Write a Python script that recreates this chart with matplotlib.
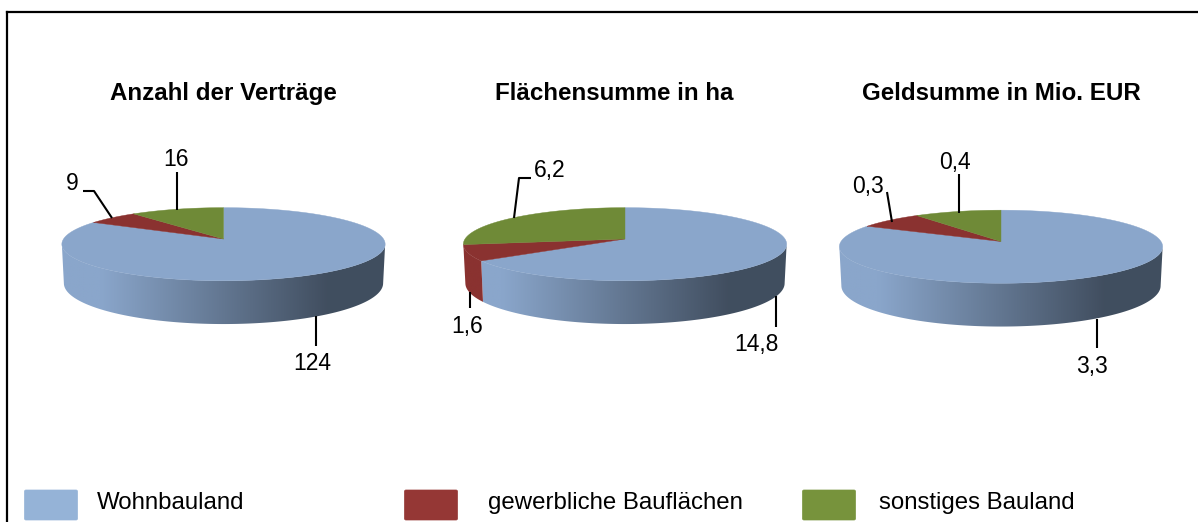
import numpy as np
import matplotlib
matplotlib.use("Agg")
import matplotlib.pyplot as plt
from matplotlib.patches import Polygon, FancyBboxPatch

plt.rcParams['font.family'] = ['Liberation Sans', 'DejaVu Sans']

# Data
titles = ["Anzahl der Verträge", "Flächensumme in ha", "Geldsumme in Mio. EUR"]
categories = ["Wohnbauland", "gewerbliche Bauflächen", "sonstiges Bauland"]
wohnbauland = [124, 14.8, 3.3]
gewerblich = [9, 1.6, 0.3]
sonstiges = [16, 6.2, 0.4]

top_colors = ["#8AA6CB", "#8A3230", "#6F8A37"]
legend_colors = ["#95B3D7", "#953735", "#77933C"]

# Perspective of the pie discs
K = 0.1425
LABEL_SIZE = 16.5


def disc_point(theta, cx, cy, a, b):
    # theta runs clockwise from 12 o'clock, the far edge is drawn smaller
    u, v = np.sin(theta), np.cos(theta)
    w = 1 + K * v
    return cx + a * u / w, cy - b * v / w


def shade(x, left, right):
    # Side of the disc gets darker from left to right
    t = (x - left) / (right - left)
    return np.interp(t, [0, 0.12, 0.82, 1], [1.0, 1.0, 0.47, 0.47])


def draw_pie(ax, values, cx, cy):
    a_top, b_top = 160, 35.8
    a_bot, b_bot = 158, 40
    cy_bot = cy + 38.4
    left, right = cx - 162, cx + 162

    fracs = np.array(values, dtype=float) / sum(values)
    edges = np.concatenate([[0], np.cumsum(fracs)]) * 2 * np.pi

    # Side first, only the part between the outline extremes can be seen
    front = np.arccos(-K)
    for i in range(3):
        t1 = max(edges[i], front)
        t2 = min(edges[i + 1], 2 * np.pi - front)
        if t2 - t1 < 0.02:
            continue
        th = np.linspace(t1, t2, 150)
        xt, yt = disc_point(th, cx, cy, a_top, b_top)
        xb, yb = disc_point(th, cx, cy_bot, a_bot, b_bot)
        pts = np.column_stack([np.r_[xt, xb[::-1]], np.r_[yt, yb[::-1]]])
        clip = Polygon(pts, closed=True, transform=ax.transData, fc="none", ec="none")
        ax.add_patch(clip)

        xs = np.linspace(left, right, 400)
        rgb = np.array(matplotlib.colors.to_rgb(top_colors[i]))
        img = shade(xs, left, right)[None, :, None] * rgb[None, None, :]
        im = ax.imshow(img, extent=[left, right, cy + 100, cy - 10], aspect="auto",
                       interpolation="bilinear", zorder=2)
        im.set_clip_path(clip)

    # Top face
    for i in range(3):
        th = np.linspace(edges[i], edges[i + 1], 200)
        x, y = disc_point(th, cx, cy, a_top, b_top)
        pts = np.column_stack([np.r_[cx, x], np.r_[cy, y]])
        ax.add_patch(Polygon(pts, closed=True, fc=top_colors[i], ec=top_colors[i],
                             lw=0.3, zorder=3))


def leader(ax, xs, ys):
    ax.plot(xs, ys, color="black", lw=1.5, solid_capstyle="butt", zorder=4)


def fmt(v):
    return str(v).replace(".", ",")


fig = plt.figure(figsize=(11.98, 5.22), dpi=100)
ax = fig.add_axes([0, 0, 1, 1])

# Frame of the chart, open on the right
ax.plot([6.5, 6.5], [522, 11.5], color="black", lw=1.6, zorder=1, solid_capstyle="projecting")
ax.plot([6.5, 1198], [11.5, 11.5], color="black", lw=1.6, zorder=1)

centers = [(223.5, 239), (625, 239), (1001, 241.5)]
title_x = [223.5, 614.5, 1001.5]

for j in range(3):
    vals = [wohnbauland[j], gewerblich[j], sonstiges[j]]
    draw_pie(ax, vals, centers[j][0], centers[j][1])
    ax.text(title_x[j], 100, titles[j], fontsize=17.4, fontweight="bold",
            ha="center", va="baseline")

# Leader lines and labels, first pie
leader(ax, [315.5, 315.5], [316, 346])
leader(ax, [83, 94, 112], [191, 191, 218])
leader(ax, [177, 177], [172, 210])
ax.text(312.5, 364, fmt(wohnbauland[0]), fontsize=LABEL_SIZE, ha="center", va="center")
ax.text(72, 184, fmt(gewerblich[0]), fontsize=LABEL_SIZE, ha="center", va="center")
ax.text(176, 159, fmt(sonstiges[0]), fontsize=LABEL_SIZE, ha="center", va="center")

# Second pie
leader(ax, [776, 776], [296, 327])
leader(ax, [470, 470], [292, 308])
leader(ax, [531, 519, 514], [178, 178, 218])
ax.text(756, 344, fmt(wohnbauland[1]), fontsize=LABEL_SIZE, ha="center", va="center")
ax.text(467, 327, fmt(gewerblich[1]), fontsize=LABEL_SIZE, ha="center", va="center")
ax.text(550, 170, fmt(sonstiges[1]), fontsize=LABEL_SIZE, ha="center", va="center")

# Third pie
leader(ax, [1097, 1097], [319, 348])
leader(ax, [887, 892], [192, 222])
leader(ax, [958.5, 958.5], [174, 213])
ax.text(1092, 366, fmt(wohnbauland[2]), fontsize=LABEL_SIZE, ha="center", va="center")
ax.text(868, 186, fmt(gewerblich[2]), fontsize=LABEL_SIZE, ha="center", va="center")
ax.text(955, 162, fmt(sonstiges[2]), fontsize=LABEL_SIZE, ha="center", va="center")

# Legend
swatch_x = [24, 404, 802]
text_x = [97, 488, 879]
for i in range(3):
    ax.add_patch(FancyBboxPatch((swatch_x[i] + 0.5, 490), 53, 30,
                                boxstyle="round,pad=0,rounding_size=1.5",
                                fc=legend_colors[i], ec=legend_colors[i], lw=0.5))
    ax.text(text_x[i], 503, categories[i], fontsize=17.3, ha="left", va="center")

ax.set_xlim(0, 1198)
ax.set_ylim(522, 0)
ax.axis("off")

fig.savefig("out.png", dpi=100, facecolor="white")
plt.close(fig)
